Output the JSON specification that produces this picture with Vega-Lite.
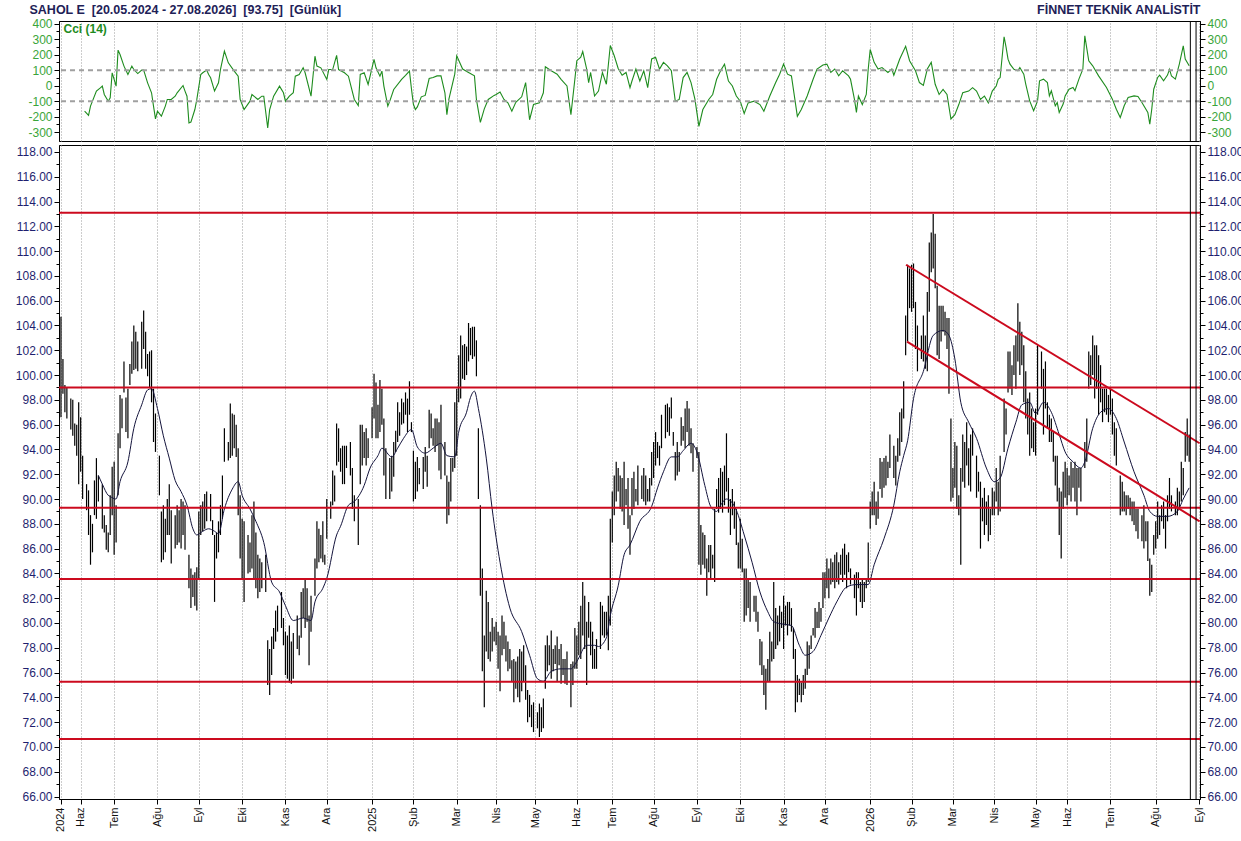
{
"$schema":"https://vega.github.io/schema/vega-lite/v6.json",
"background":"white",
"padding":{"left":14,"top":2,"right":0,"bottom":0},
"spacing":2,
"config":{"font":"Liberation Sans","view":{"stroke":"#000000","strokeWidth":1},"axis":{"labelFont":"Liberation Sans","titleFont":"Liberation Sans","labelOverlap":false,"labelFlush":false,"labelBound":false}},
"datasets":{
"bars":[
{"i":0,"h":104.7,"l":96.6},{"i":1,"h":101.3,"l":98.5},{"i":2,"h":99.2,"l":97.0},{"i":3,"h":99.0,"l":96.5},{"i":5,"h":98.1,"l":95.6},{"i":6,"h":98.0,"l":95.1},{"i":7,"h":96.1,"l":94.3},{"i":8,"h":96.0,"l":93.5},{"i":9,"h":97.8,"l":91.2},{"i":10,"h":96.6,"l":92.2},{"i":11,"h":93.5,"l":90.0},{"i":13,"h":91.2,"l":89.1},{"i":14,"h":90.7,"l":87.1},{"i":15,"h":88.7,"l":84.7},{"i":16,"h":88.0,"l":85.7},{"i":17,"h":91.5,"l":88.7},{"i":18,"h":93.3,"l":88.4},{"i":19,"h":91.9,"l":89.8},{"i":21,"h":91.2,"l":87.6},{"i":22,"h":88.7,"l":87.3},{"i":23,"h":87.9,"l":85.9},{"i":24,"h":87.3,"l":85.7},{"i":25,"h":90.3,"l":87.1},{"i":26,"h":92.6,"l":88.7},{"i":27,"h":93.0,"l":85.5},{"i":28,"h":89.5,"l":86.5},{"i":29,"h":95.3,"l":90.3},{"i":30,"h":98.4,"l":94.1},{"i":31,"h":98.1,"l":95.7},{"i":32,"h":101.1,"l":98.6},{"i":33,"h":98.2,"l":95.4},{"i":34,"h":98.9,"l":94.9},{"i":35,"h":100.9,"l":99.2},{"i":36,"h":102.7,"l":100.1},{"i":37,"h":104.0,"l":100.4},{"i":38,"h":103.5,"l":100.5},{"i":39,"h":102.7,"l":100.3},{"i":41,"h":104.3,"l":100.5},{"i":42,"h":105.2,"l":102.1},{"i":43,"h":103.5,"l":100.5},{"i":44,"h":101.7,"l":99.9},{"i":45,"h":101.9,"l":99.0},{"i":46,"h":102.0,"l":97.8},{"i":47,"h":98.9,"l":94.6},{"i":48,"h":96.9,"l":93.8},{"i":50,"h":93.5,"l":90.3},{"i":51,"h":89.0,"l":84.9},{"i":52,"h":89.5,"l":85.1},{"i":53,"h":88.4,"l":85.7},{"i":54,"h":90.0,"l":87.1},{"i":55,"h":91.2,"l":87.1},{"i":56,"h":89.1,"l":84.8},{"i":58,"h":88.7,"l":86.0},{"i":59,"h":89.5,"l":86.3},{"i":60,"h":89.1,"l":86.5},{"i":61,"h":90.0,"l":86.0},{"i":62,"h":89.8,"l":87.1},{"i":63,"h":89.5,"l":85.9},{"i":65,"h":85.5,"l":82.8},{"i":66,"h":84.4,"l":81.2},{"i":67,"h":83.9,"l":82.1},{"i":68,"h":84.1,"l":81.4},{"i":69,"h":84.5,"l":81.0},{"i":70,"h":89.0,"l":83.6},{"i":71,"h":89.5,"l":87.1},{"i":72,"h":89.8,"l":87.4},{"i":73,"h":90.4,"l":87.6},{"i":74,"h":90.6,"l":88.2},{"i":76,"h":90.4,"l":88.2},{"i":77,"h":88.3,"l":87.1},{"i":78,"h":87.1,"l":81.7},{"i":79,"h":87.3,"l":85.2},{"i":80,"h":88.2,"l":85.7},{"i":81,"h":89.5,"l":87.1},{"i":82,"h":91.9,"l":88.4},{"i":83,"h":95.7,"l":93.0},{"i":85,"h":94.6,"l":93.1},{"i":86,"h":97.7,"l":93.3},{"i":87,"h":96.9,"l":93.5},{"i":88,"h":96.8,"l":94.1},{"i":89,"h":96.0,"l":93.4},{"i":90,"h":94.1,"l":88.7},{"i":91,"h":90.3,"l":85.2},{"i":92,"h":88.4,"l":83.6},{"i":93,"h":88.2,"l":81.7},{"i":95,"h":87.1,"l":84.0},{"i":96,"h":86.5,"l":84.1},{"i":97,"h":88.7,"l":84.4},{"i":98,"h":89.8,"l":83.6},{"i":99,"h":87.3,"l":82.8},{"i":100,"h":85.5,"l":82.0},{"i":101,"h":85.2,"l":82.5},{"i":102,"h":84.9,"l":82.8},{"i":104,"h":85.5,"l":82.5},{"i":105,"h":78.6,"l":75.0},{"i":106,"h":77.9,"l":74.2},{"i":107,"h":78.9,"l":75.8},{"i":108,"h":79.6,"l":77.9},{"i":109,"h":81.0,"l":78.5},{"i":110,"h":81.4,"l":79.3},{"i":112,"h":82.5,"l":79.6},{"i":113,"h":80.4,"l":78.2},{"i":114,"h":79.3,"l":75.8},{"i":115,"h":79.0,"l":75.5},{"i":116,"h":79.8,"l":75.2},{"i":117,"h":78.5,"l":75.1},{"i":118,"h":79.2,"l":75.5},{"i":120,"h":80.6,"l":77.9},{"i":121,"h":79.0,"l":77.4},{"i":122,"h":82.5,"l":78.8},{"i":123,"h":82.8,"l":80.4},{"i":124,"h":83.6,"l":79.6},{"i":125,"h":82.8,"l":80.1},{"i":126,"h":80.6,"l":76.6},{"i":127,"h":82.2,"l":79.3},{"i":129,"h":85.2,"l":82.2},{"i":130,"h":88.2,"l":84.4},{"i":131,"h":87.6,"l":84.9},{"i":132,"h":87.1,"l":85.2},{"i":133,"h":88.2,"l":84.9},{"i":134,"h":85.5,"l":84.7},{"i":135,"h":90.0,"l":86.8},{"i":137,"h":89.8,"l":88.4},{"i":138,"h":92.3,"l":89.5},{"i":139,"h":91.9,"l":89.8},{"i":140,"h":96.1,"l":92.7},{"i":141,"h":95.7,"l":93.0},{"i":142,"h":94.1,"l":92.2},{"i":143,"h":94.3,"l":91.2},
{"i":144,"h":94.3,"l":91.2},{"i":145,"h":94.3,"l":92.5},{"i":147,"h":94.6,"l":91.9},{"i":148,"h":92.5,"l":89.2},{"i":149,"h":90.3,"l":88.2},{"i":151,"h":90.0,"l":86.3},{"i":152,"h":96.0,"l":91.2},{"i":153,"h":96.0,"l":92.7},{"i":154,"h":95.4,"l":93.3},{"i":155,"h":95.7,"l":92.7},{"i":156,"h":94.9,"l":93.3},{"i":158,"h":97.4,"l":94.9},{"i":159,"h":100.1,"l":96.5},{"i":160,"h":99.4,"l":94.9},{"i":161,"h":97.6,"l":94.9},{"i":162,"h":99.6,"l":95.4},{"i":163,"h":98.9,"l":96.0},{"i":164,"h":96.5,"l":91.9},{"i":165,"h":94.1,"l":90.0},{"i":167,"h":93.3,"l":90.0},{"i":168,"h":93.5,"l":90.6},{"i":169,"h":94.6,"l":91.8},{"i":170,"h":95.5,"l":93.8},{"i":171,"h":97.8,"l":94.6},{"i":172,"h":97.0,"l":95.1},{"i":173,"h":98.1,"l":96.0},{"i":174,"h":97.8,"l":96.1},{"i":175,"h":98.6,"l":96.8},{"i":176,"h":98.1,"l":95.4},{"i":177,"h":99.5,"l":96.8},{"i":178,"h":96.2,"l":95.4},{"i":179,"h":93.9,"l":89.8},{"i":180,"h":93.0,"l":90.0},{"i":181,"h":93.4,"l":90.6},{"i":182,"h":92.5,"l":91.2},{"i":184,"h":93.4,"l":90.8},{"i":185,"h":94.2,"l":92.2},{"i":186,"h":93.5,"l":91.0},{"i":187,"h":97.2,"l":94.1},{"i":188,"h":96.9,"l":94.9},{"i":189,"h":95.7,"l":94.3},{"i":190,"h":96.5,"l":93.8},{"i":191,"h":96.5,"l":94.3},{"i":192,"h":96.2,"l":92.3},{"i":193,"h":97.6,"l":91.6},{"i":195,"h":94.6,"l":91.9},{"i":196,"h":91.9,"l":88.0},{"i":197,"h":91.4,"l":88.7},{"i":198,"h":93.3,"l":89.8},{"i":199,"h":93.3,"l":92.2},{"i":200,"h":97.8,"l":92.5},{"i":201,"h":98.9,"l":93.5},{"i":202,"h":101.6,"l":97.8},{"i":203,"h":103.2,"l":98.1},{"i":204,"h":102.4,"l":99.7},{"i":205,"h":102.5,"l":99.6},{"i":206,"h":102.3,"l":100.0},{"i":207,"h":104.2,"l":101.1},{"i":208,"h":103.8,"l":101.6},{"i":209,"h":103.9,"l":101.3},{"i":210,"h":103.9,"l":101.5},{"i":211,"h":102.8,"l":99.9},{"i":212,"h":95.7,"l":90.0},{"i":213,"h":89.5,"l":82.2},{"i":214,"h":84.4,"l":76.1},{"i":215,"h":79.0,"l":73.2},{"i":216,"h":82.6,"l":77.7},{"i":217,"h":81.7,"l":77.1},{"i":218,"h":79.3,"l":76.9},{"i":219,"h":80.4,"l":77.7},{"i":220,"h":79.7,"l":78.5},{"i":221,"h":80.1,"l":78.2},{"i":222,"h":79.3,"l":76.3},{"i":223,"h":79.0,"l":74.5},{"i":224,"h":80.6,"l":77.4},{"i":225,"h":80.1,"l":77.9},{"i":226,"h":79.0,"l":76.9},{"i":227,"h":78.5,"l":76.1},{"i":228,"h":77.9,"l":76.3},{"i":229,"h":77.0,"l":75.3},{"i":230,"h":77.1,"l":73.6},{"i":231,"h":76.9,"l":74.7},{"i":232,"h":77.3,"l":74.0},{"i":233,"h":77.9,"l":73.6},{"i":234,"h":77.7,"l":74.5},{"i":235,"h":78.2,"l":75.3},{"i":236,"h":76.6,"l":73.8},{"i":237,"h":74.6,"l":72.0},{"i":238,"h":74.2,"l":72.4},{"i":239,"h":73.4,"l":71.6},{"i":240,"h":73.6,"l":71.2},{"i":242,"h":72.8,"l":71.5},{"i":243,"h":73.5,"l":70.8},{"i":244,"h":73.2,"l":71.2},{"i":245,"h":73.9,"l":71.5},{"i":246,"h":78.2,"l":74.7},{"i":247,"h":79.0,"l":76.1},{"i":248,"h":78.2,"l":76.6},{"i":249,"h":79.4,"l":75.5},{"i":250,"h":77.9,"l":76.1},{"i":251,"h":78.2,"l":76.7},{"i":252,"h":78.9,"l":75.3},{"i":253,"h":77.9,"l":76.6},{"i":254,"h":78.3,"l":75.1},{"i":255,"h":77.1,"l":75.8},{"i":256,"h":77.1,"l":75.1},{"i":257,"h":77.7,"l":75.0},{"i":259,"h":76.7,"l":73.2},{"i":260,"h":76.9,"l":75.0},{"i":261,"h":79.6,"l":76.3},{"i":262,"h":79.0,"l":76.3},{"i":263,"h":80.1,"l":77.4},{"i":264,"h":81.4,"l":77.1},{"i":265,"h":83.3,"l":79.0},{"i":266,"h":82.2,"l":77.9},{"i":267,"h":80.1,"l":75.0},{"i":268,"h":81.7,"l":78.8},{"i":269,"h":80.1,"l":77.4},{"i":270,"h":79.3,"l":76.3},{"i":271,"h":77.9,"l":76.3},{"i":272,"h":78.7,"l":76.3},{"i":274,"h":81.7,"l":77.9},{"i":275,"h":81.4,"l":79.0},{"i":276,"h":80.9,"l":78.8},{"i":277,"h":80.9,"l":79.0},{"i":278,"h":82.2,"l":77.8},{"i":279,"h":88.4,"l":79.8},{"i":280,"h":90.6,"l":86.5},{"i":281,"h":91.9,"l":88.7},{"i":282,"h":93.0,"l":89.8},{"i":283,"h":92.5,"l":90.6},{"i":284,"h":91.9,"l":89.2},{"i":285,"h":91.7,"l":89.0},{"i":286,"h":93.0,"l":87.9},{"i":287,"h":90.8,"l":89.5},
{"i":288,"h":91.7,"l":87.6},{"i":289,"h":88.7,"l":85.5},{"i":290,"h":91.7,"l":88.7},{"i":291,"h":92.2,"l":89.2},{"i":292,"h":90.8,"l":89.8},{"i":293,"h":92.7,"l":89.5},{"i":295,"h":91.9,"l":90.0},{"i":296,"h":92.5,"l":89.8},{"i":297,"h":91.9,"l":89.5},{"i":298,"h":90.8,"l":89.8},{"i":299,"h":91.7,"l":89.8},{"i":300,"h":93.8,"l":91.1},{"i":301,"h":94.6,"l":91.7},{"i":302,"h":95.4,"l":92.7},{"i":303,"h":94.6,"l":93.3},{"i":304,"h":94.3,"l":92.7},{"i":305,"h":96.8,"l":94.1},{"i":307,"h":97.6,"l":94.9},{"i":308,"h":97.7,"l":95.4},{"i":309,"h":97.4,"l":95.1},{"i":310,"h":98.2,"l":96.5},{"i":311,"h":95.4,"l":94.3},{"i":312,"h":93.8,"l":91.5},{"i":313,"h":94.6,"l":91.9},{"i":314,"h":93.8,"l":92.2},{"i":315,"h":96.6,"l":94.3},{"i":316,"h":95.9,"l":94.7},{"i":317,"h":97.3,"l":94.1},{"i":318,"h":97.9,"l":95.4},{"i":319,"h":97.3,"l":94.3},{"i":320,"h":95.7,"l":93.7},{"i":321,"h":94.5,"l":92.2},{"i":323,"h":94.2,"l":93.3},{"i":324,"h":93.8,"l":84.7},{"i":325,"h":87.9,"l":83.9},{"i":326,"h":87.3,"l":84.7},{"i":327,"h":87.1,"l":84.4},{"i":328,"h":85.2,"l":82.2},{"i":329,"h":86.3,"l":84.1},{"i":330,"h":86.3,"l":83.6},{"i":331,"h":85.5,"l":84.4},{"i":332,"h":89.2,"l":83.3},{"i":333,"h":90.8,"l":89.2},{"i":334,"h":91.7,"l":88.9},{"i":335,"h":92.5,"l":89.2},{"i":336,"h":92.2,"l":88.9},{"i":337,"h":92.7,"l":89.5},{"i":338,"h":95.3,"l":90.6},{"i":339,"h":91.7,"l":88.9},{"i":340,"h":90.0,"l":87.1},{"i":341,"h":90.8,"l":88.7},{"i":342,"h":89.8,"l":87.6},{"i":343,"h":89.2,"l":86.3},{"i":344,"h":86.5,"l":84.4},{"i":345,"h":88.4,"l":84.4},{"i":346,"h":86.8,"l":84.1},{"i":347,"h":84.4,"l":80.1},{"i":348,"h":84.4,"l":80.6},{"i":349,"h":83.6,"l":81.2},{"i":350,"h":83.3,"l":80.1},{"i":352,"h":82.2,"l":80.9},{"i":353,"h":82.2,"l":80.1},{"i":354,"h":80.9,"l":79.3},{"i":355,"h":78.7,"l":76.6},{"i":356,"h":78.5,"l":75.8},{"i":357,"h":76.6,"l":74.2},{"i":358,"h":76.3,"l":73.0},{"i":359,"h":77.1,"l":75.3},{"i":360,"h":79.3,"l":75.3},{"i":361,"h":78.5,"l":76.9},{"i":362,"h":83.3,"l":77.1},{"i":363,"h":81.2,"l":77.9},{"i":364,"h":80.6,"l":78.2},{"i":365,"h":81.4,"l":78.5},{"i":366,"h":80.9,"l":79.6},{"i":367,"h":82.2,"l":77.9},{"i":368,"h":81.4,"l":79.8},{"i":369,"h":81.7,"l":79.0},{"i":370,"h":81.7,"l":79.8},{"i":371,"h":81.2,"l":79.3},{"i":372,"h":79.6,"l":77.1},{"i":373,"h":77.9,"l":72.8},{"i":374,"h":75.8,"l":73.6},{"i":375,"h":75.5,"l":74.2},{"i":376,"h":75.2,"l":73.6},{"i":377,"h":75.8,"l":74.2},{"i":378,"h":76.3,"l":74.7},{"i":379,"h":78.5,"l":75.8},{"i":380,"h":78.2,"l":76.3},{"i":381,"h":79.0,"l":77.9},{"i":382,"h":79.6,"l":79.0},{"i":383,"h":81.2,"l":78.8},{"i":384,"h":80.9,"l":79.6},{"i":385,"h":81.7,"l":79.6},{"i":386,"h":81.2,"l":80.1},{"i":387,"h":84.1,"l":81.2},{"i":388,"h":84.1,"l":82.0},{"i":389,"h":85.2,"l":82.8},{"i":390,"h":84.4,"l":82.0},{"i":391,"h":85.2,"l":83.1},{"i":392,"h":84.9,"l":83.3},{"i":393,"h":85.5,"l":82.8},{"i":394,"h":85.7,"l":83.3},{"i":395,"h":84.9,"l":83.1},{"i":396,"h":85.5,"l":83.9},{"i":397,"h":86.0,"l":83.3},{"i":398,"h":86.4,"l":83.9},{"i":399,"h":85.5,"l":82.8},{"i":400,"h":85.7,"l":84.1},{"i":401,"h":84.4,"l":83.1},{"i":403,"h":83.9,"l":82.0},{"i":404,"h":84.1,"l":80.6},{"i":405,"h":84.1,"l":82.8},{"i":406,"h":83.3,"l":81.7},{"i":407,"h":83.6,"l":81.2},{"i":408,"h":83.3,"l":81.7},{"i":409,"h":83.6,"l":82.8},{"i":410,"h":86.5,"l":83.3},{"i":411,"h":89.8,"l":87.6},{"i":412,"h":90.6,"l":88.7},{"i":413,"h":91.4,"l":88.7},{"i":414,"h":89.8,"l":87.9},{"i":415,"h":90.6,"l":88.4},{"i":416,"h":93.3,"l":90.8},
{"i":417,"h":93.0,"l":90.1},{"i":418,"h":93.3,"l":90.9},{"i":419,"h":93.5,"l":91.1},{"i":420,"h":93.0,"l":91.7},{"i":421,"h":95.2,"l":92.5},{"i":423,"h":94.3,"l":91.7},{"i":424,"h":93.5,"l":91.1},{"i":425,"h":94.9,"l":93.0},{"i":426,"h":97.0,"l":93.5},{"i":427,"h":97.3,"l":94.6},{"i":428,"h":99.5,"l":96.5},{"i":429,"h":104.8,"l":101.6},{"i":430,"h":108.9,"l":102.7},{"i":431,"h":108.6,"l":105.4},{"i":432,"h":108.9,"l":105.1},{"i":433,"h":109.0,"l":105.4},{"i":434,"h":105.9,"l":102.1},{"i":435,"h":104.0,"l":100.3},{"i":437,"h":103.2,"l":101.3},{"i":438,"h":104.8,"l":101.1},{"i":439,"h":103.2,"l":100.5},{"i":440,"h":106.7,"l":100.3},{"i":441,"h":110.7,"l":105.1},{"i":442,"h":111.5,"l":108.3},{"i":443,"h":113.0,"l":108.6},{"i":444,"h":111.4,"l":107.0},{"i":445,"h":107.2,"l":101.6},{"i":446,"h":105.6,"l":101.3},{"i":447,"h":105.6,"l":102.7},{"i":448,"h":105.6,"l":103.5},{"i":449,"h":105.1,"l":103.2},{"i":450,"h":104.6,"l":102.1},{"i":451,"h":104.6,"l":98.5},{"i":452,"h":96.5,"l":89.8},{"i":453,"h":92.5,"l":90.1},{"i":454,"h":94.6,"l":90.9},{"i":455,"h":94.3,"l":89.2},{"i":456,"h":90.3,"l":88.7},{"i":457,"h":92.5,"l":84.7},{"i":458,"h":95.2,"l":91.4},{"i":459,"h":94.6,"l":90.9},{"i":460,"h":96.2,"l":92.7},{"i":461,"h":94.1,"l":91.1},{"i":462,"h":95.2,"l":90.6},{"i":463,"h":95.7,"l":93.5},{"i":465,"h":93.5,"l":90.1},{"i":466,"h":92.2,"l":90.6},{"i":467,"h":91.4,"l":86.0},{"i":468,"h":90.1,"l":88.2},{"i":469,"h":90.9,"l":87.1},{"i":470,"h":89.8,"l":87.9},{"i":471,"h":90.3,"l":86.6},{"i":472,"h":89.2,"l":87.1},{"i":473,"h":90.9,"l":88.7},{"i":474,"h":90.6,"l":88.7},{"i":475,"h":92.5,"l":89.8},{"i":476,"h":91.4,"l":88.7},{"i":477,"h":93.5,"l":89.0},{"i":479,"h":98.1,"l":93.8},{"i":480,"h":97.3,"l":95.2},{"i":481,"h":101.9,"l":98.6},{"i":482,"h":101.9,"l":98.9},{"i":483,"h":100.8,"l":98.4},{"i":484,"h":102.4,"l":100.0},{"i":485,"h":103.2,"l":98.9},{"i":486,"h":105.8,"l":101.1},{"i":487,"h":104.3,"l":100.0},{"i":488,"h":103.5,"l":100.8},{"i":489,"h":102.4,"l":97.8},{"i":490,"h":100.3,"l":96.5},{"i":491,"h":98.1,"l":95.2},{"i":492,"h":98.6,"l":93.5},{"i":493,"h":97.3,"l":94.1},{"i":494,"h":96.2,"l":93.8},{"i":495,"h":97.3,"l":93.5},{"i":496,"h":102.4,"l":96.8},{"i":498,"h":101.9,"l":98.9},{"i":499,"h":100.5,"l":95.2},{"i":500,"h":101.1,"l":97.3},{"i":501,"h":97.8,"l":95.7},{"i":502,"h":96.8,"l":94.6},{"i":503,"h":96.5,"l":94.6},{"i":504,"h":95.4,"l":93.0},{"i":505,"h":93.5,"l":91.1},{"i":506,"h":93.5,"l":89.8},{"i":507,"h":90.9,"l":87.1},{"i":508,"h":90.6,"l":85.2},{"i":509,"h":92.2,"l":89.2},{"i":510,"h":93.0,"l":90.1},{"i":511,"h":92.5,"l":89.5},{"i":512,"h":91.9,"l":90.3},{"i":513,"h":93.0,"l":89.8},{"i":514,"h":92.5,"l":90.9},{"i":515,"h":93.0,"l":89.8},{"i":516,"h":92.5,"l":88.7},{"i":517,"h":92.5,"l":90.9},{"i":518,"h":92.5,"l":89.8},{"i":520,"h":94.6,"l":92.5},{"i":521,"h":96.5,"l":93.0},{"i":522,"h":101.9,"l":98.9},{"i":523,"h":101.6,"l":99.2},{"i":524,"h":103.2,"l":100.0},{"i":525,"h":102.4,"l":98.1},{"i":526,"h":102.4,"l":98.9},{"i":527,"h":101.6,"l":96.8},{"i":528,"h":100.8,"l":97.8},{"i":529,"h":98.9,"l":96.2},{"i":530,"h":98.9,"l":97.0},{"i":531,"h":98.9,"l":96.8},{"i":532,"h":98.4,"l":96.2},{"i":533,"h":98.9,"l":96.8},{"i":534,"h":98.1,"l":95.2},{"i":535,"h":96.2,"l":93.5},{"i":536,"h":95.7,"l":92.7},{"i":538,"h":91.9,"l":88.7},{"i":539,"h":91.4,"l":89.0},{"i":540,"h":90.6,"l":89.0},{"i":541,"h":90.3,"l":88.7},{"i":542,"h":90.3,"l":89.2},{"i":543,"h":90.1,"l":88.7},{"i":544,"h":89.8,"l":88.2},{"i":545,"h":89.8,"l":87.9},{"i":546,"h":89.2,"l":87.4},{"i":547,"h":89.2,"l":86.8},{"i":549,"h":88.7,"l":86.6},{"i":550,"h":89.5,"l":86.0},{"i":551,"h":88.2,"l":86.6},{"i":552,"h":88.2,"l":85.0},{"i":553,"h":85.2,"l":82.2},{"i":554,"h":84.7,"l":82.5},{"i":555,"h":87.1,"l":85.5},{"i":556,"h":88.2,"l":86.0},{"i":557,"h":89.8,"l":86.8},{"i":558,"h":88.7,"l":87.1},{"i":559,"h":89.5,"l":88.2},{"i":560,"h":89.8,"l":87.6},{"i":561,"h":88.7,"l":86.0},{"i":562,"h":90.3,"l":88.2},{"i":563,"h":91.7,"l":89.2},{"i":564,"h":90.3,"l":89.0},{"i":566,"h":89.8,"l":88.7},{"i":567,"h":90.9,"l":88.7},{"i":568,"h":90.6,"l":89.2},{"i":569,"h":93.0,"l":89.8},{"i":570,"h":92.5,"l":90.3},{"i":571,"h":95.4,"l":93.0},{"i":572,"h":96.5,"l":93.5},{"i":573,"h":95.2,"l":93.0}
],
"ma":[
{"i":19,"m":91.9},{"i":21,"m":91.2},{"i":24,"m":90.3},{"i":25,"m":90.2},{"i":28,"m":90.0},{"i":30,"m":91.4},{"i":34,"m":93.0},{"i":37,"m":95.7},{"i":41,"m":97.6},{"i":44,"m":98.8},{"i":46,"m":98.9},{"i":49,"m":97.3},{"i":52,"m":95.1},{"i":55,"m":93.3},{"i":58,"m":91.5},{"i":61,"m":90.6},{"i":64,"m":89.5},{"i":67,"m":87.6},{"i":69,"m":87.1},{"i":72,"m":87.4},{"i":75,"m":87.6},{"i":78,"m":87.4},{"i":80,"m":87.2},{"i":83,"m":89.2},{"i":87,"m":90.8},{"i":90,"m":91.4},{"i":92,"m":90.3},{"i":96,"m":89.2},{"i":99,"m":88.2},{"i":103,"m":86.5},{"i":107,"m":83.3},{"i":111,"m":82.5},{"i":114,"m":81.4},{"i":118,"m":80.2},{"i":123,"m":80.4},{"i":127,"m":80.2},{"i":129,"m":81.7},{"i":133,"m":82.8},{"i":135,"m":83.6},{"i":140,"m":87.1},{"i":142,"m":87.8},{"i":146,"m":89.5},{"i":149,"m":89.8},{"i":154,"m":91.1},{"i":157,"m":92.5},{"i":161,"m":93.5},{"i":163,"m":94.1},{"i":168,"m":93.4},{"i":171,"m":94.1},{"i":174,"m":94.9},{"i":178,"m":95.6},{"i":181,"m":94.2},{"i":185,"m":93.7},{"i":189,"m":94.1},{"i":193,"m":94.5},{"i":196,"m":93.5},{"i":200,"m":93.4},{"i":202,"m":95.4},{"i":206,"m":97.0},{"i":208,"m":98.2},{"i":210,"m":98.7},{"i":212,"m":97.3},{"i":216,"m":93.3},{"i":219,"m":89.2},{"i":223,"m":84.9},{"i":228,"m":81.2},{"i":234,"m":79.3},{"i":238,"m":77.4},{"i":242,"m":75.5},{"i":245,"m":75.3},{"i":249,"m":76.1},{"i":254,"m":76.3},{"i":259,"m":76.3},{"i":262,"m":76.9},{"i":267,"m":78.2},{"i":271,"m":78.2},{"i":273,"m":78.1},{"i":277,"m":78.8},{"i":279,"m":80.6},{"i":283,"m":83.0},{"i":286,"m":85.5},{"i":289,"m":86.3},{"i":294,"m":88.2},{"i":300,"m":89.4},{"i":303,"m":90.9},{"i":306,"m":92.2},{"i":310,"m":93.4},{"i":313,"m":93.4},{"i":316,"m":93.9},{"i":320,"m":94.5},{"i":323,"m":93.8},{"i":327,"m":91.1},{"i":330,"m":89.4},{"i":333,"m":89.0},{"i":335,"m":89.5},{"i":338,"m":90.0},{"i":343,"m":89.1},{"i":347,"m":87.1},{"i":351,"m":84.9},{"i":355,"m":82.5},{"i":359,"m":80.9},{"i":362,"m":80.1},{"i":367,"m":79.9},{"i":371,"m":79.8},{"i":375,"m":78.2},{"i":378,"m":77.4},{"i":382,"m":77.7},{"i":386,"m":79.0},{"i":390,"m":80.4},{"i":394,"m":81.7},{"i":399,"m":82.9},{"i":404,"m":83.1},{"i":410,"m":83.1},{"i":413,"m":84.7},{"i":418,"m":86.8},{"i":423,"m":89.5},{"i":426,"m":92.2},{"i":428,"m":93.5},{"i":430,"m":94.7},{"i":433,"m":98.1},{"i":438,"m":100.3},{"i":443,"m":103.2},{"i":448,"m":103.6},{"i":451,"m":103.2},{"i":454,"m":101.3},{"i":457,"m":97.8},{"i":461,"m":96.2},{"i":465,"m":94.9},{"i":470,"m":92.5},{"i":474,"m":91.4},{"i":477,"m":91.7},{"i":481,"m":94.1},{"i":485,"m":96.2},{"i":488,"m":97.6},{"i":492,"m":97.8},{"i":495,"m":96.9},{"i":499,"m":97.8},{"i":503,"m":97.0},{"i":507,"m":95.2},{"i":510,"m":93.8},{"i":514,"m":93.0},{"i":518,"m":92.5},{"i":520,"m":93.0},{"i":524,"m":95.7},{"i":528,"m":97.0},{"i":532,"m":97.3},{"i":536,"m":96.5},{"i":540,"m":94.6},{"i":545,"m":92.2},{"i":550,"m":90.3},{"i":553,"m":89.0},{"i":557,"m":88.6},{"i":562,"m":88.6},{"i":567,"m":89.0},{"i":570,"m":90.0},{"i":573,"m":90.9}
],
"cci":[
{"i":12,"k":-165},{"i":14,"k":-192},{"i":15,"k":-132},{"i":18,"k":-35},{"i":20,"k":-14},{"i":21,"k":-3},{"i":22,"k":-57},{"i":24,"k":-100},{"i":25,"k":-78},{"i":26,"k":83},{"i":27,"k":40},{"i":28,"k":-3},{"i":29,"k":229},{"i":30,"k":201},{"i":32,"k":126},{"i":34,"k":72},{"i":36,"k":126},{"i":37,"k":104},{"i":39,"k":78},{"i":41,"k":100},{"i":42,"k":100},{"i":44,"k":18},{"i":46,"k":-46},{"i":47,"k":-132},{"i":48,"k":-214},{"i":49,"k":-165},{"i":51,"k":-197},{"i":53,"k":-132},{"i":54,"k":-89},{"i":56,"k":-89},{"i":58,"k":-68},{"i":59,"k":-46},{"i":62,"k":1},{"i":63,"k":-35},{"i":64,"k":-68},{"i":65,"k":-240},{"i":66,"k":-235},{"i":68,"k":-154},{"i":69,"k":-89},{"i":71,"k":72},{"i":72,"k":83},{"i":74,"k":100},{"i":75,"k":72},{"i":76,"k":51},{"i":78,"k":-35},{"i":80,"k":18},{"i":81,"k":104},{"i":83,"k":223},{"i":85,"k":147},{"i":88,"k":94},{"i":90,"k":61},{"i":91,"k":-89},{"i":93,"k":-154},{"i":96,"k":-100},{"i":97,"k":-57},{"i":100,"k":-89},{"i":102,"k":-68},{"i":103,"k":-68},{"i":105,"k":-272},{"i":106,"k":-154},{"i":108,"k":-68},{"i":111,"k":-3},{"i":113,"k":-46},{"i":114,"k":-100},{"i":116,"k":-68},{"i":118,"k":-46},{"i":119,"k":61},{"i":121,"k":72},{"i":123,"k":115},{"i":124,"k":83},{"i":127,"k":-68},{"i":129,"k":190},{"i":130,"k":126},{"i":132,"k":115},{"i":135,"k":40},{"i":136,"k":104},{"i":138,"k":104},{"i":140,"k":195},{"i":141,"k":104},{"i":144,"k":83},{"i":146,"k":61},{"i":149,"k":-89},{"i":151,"k":-128},{"i":152,"k":72},{"i":154,"k":83},{"i":156,"k":8},{"i":159,"k":169},{"i":160,"k":115},{"i":162,"k":61},{"i":163,"k":94},{"i":164,"k":-3},{"i":166,"k":-132},{"i":167,"k":-100},{"i":169,"k":-25},{"i":173,"k":40},{"i":175,"k":66},{"i":177,"k":94},{"i":178,"k":-20},{"i":179,"k":-120},{"i":180,"k":-154},{"i":181,"k":-137},{"i":183,"k":-72},{"i":185,"k":-63},{"i":187,"k":46},{"i":189,"k":52},{"i":191,"k":63},{"i":193,"k":63},{"i":195,"k":-46},{"i":196,"k":-187},{"i":197,"k":-89},{"i":200,"k":74},{"i":201,"k":193},{"i":204,"k":107},{"i":207,"k":85},{"i":210,"k":63},{"i":211,"k":-89},{"i":213,"k":-237},{"i":215,"k":-150},{"i":217,"k":-89},{"i":220,"k":-63},{"i":221,"k":-57},{"i":223,"k":-41},{"i":225,"k":-89},{"i":227,"k":-111},{"i":229,"k":-165},{"i":231,"k":-107},{"i":234,"k":-72},{"i":236,"k":20},{"i":238,"k":-220},{"i":240,"k":-122},{"i":243,"k":-111},{"i":245,"k":-46},{"i":246,"k":122},{"i":249,"k":96},{"i":252,"k":74},{"i":254,"k":41},{"i":257,"k":-2},{"i":259,"k":-187},{"i":261,"k":41},{"i":262,"k":161},{"i":264,"k":183},{"i":265,"k":220},{"i":267,"k":107},{"i":268,"k":20},{"i":269,"k":85},{"i":271,"k":-67},{"i":273,"k":-35},{"i":275,"k":85},{"i":277,"k":9},{"i":279,"k":259},{"i":281,"k":193},{"i":283,"k":111},{"i":285,"k":67},{"i":287,"k":85},{"i":289,"k":-13},{"i":290,"k":30},{"i":292,"k":107},{"i":294,"k":30},{"i":296,"k":96},{"i":298,"k":-13},{"i":300,"k":172},{"i":302,"k":183},{"i":304,"k":107},{"i":306,"k":150},{"i":308,"k":128},{"i":310,"k":96},{"i":312,"k":-100},{"i":314,"k":-89},{"i":316,"k":52},{"i":318,"k":85},{"i":320,"k":20},{"i":322,"k":-89},{"i":323,"k":-176},{"i":324,"k":-263},{"i":326,"k":-154},{"i":329,"k":-89},{"i":331,"k":-57},{"i":333,"k":41},{"i":335,"k":96},{"i":337,"k":139},{"i":339,"k":30},{"i":341,"k":-2},{"i":343,"k":-67},{"i":345,"k":-100},{"i":347,"k":-180},{"i":349,"k":-111},{"i":352,"k":-100},{"i":355,"k":-122},{"i":357,"k":-165},{"i":360,"k":-67},{"i":363,"k":20},{"i":365,"k":74},{"i":367,"k":139},{"i":369,"k":74},{"i":371,"k":63},{"i":374,"k":-198},{"i":376,"k":-154},{"i":379,"k":-67},{"i":382,"k":41},{"i":384,"k":107},{"i":387,"k":133},{"i":389,"k":139},{"i":391,"k":85},{"i":393,"k":107},{"i":395,"k":63},{"i":397,"k":96},{"i":400,"k":63},{"i":401,"k":41},{"i":403,"k":-89},{"i":404,"k":-172},{"i":405,"k":-67},{"i":407,"k":-122},{"i":409,"k":-57},{"i":410,"k":107},{"i":411,"k":233},{"i":413,"k":150},{"i":415,"k":107},{"i":417,"k":117},{"i":420,"k":85},{"i":422,"k":107},{"i":423,"k":67},{"i":426,"k":172},{"i":429,"k":254},{"i":431,"k":161},{"i":434,"k":96},{"i":436,"k":20},{"i":438,"k":2},{"i":440,"k":107},{"i":442,"k":150},{"i":444,"k":9},{"i":446,"k":-57},{"i":448,"k":-24},{"i":450,"k":-57},{"i":452,"k":-215},{"i":454,"k":-187},{"i":456,"k":-122},{"i":458,"k":-46},{"i":461,"k":-35},{"i":463,"k":-13},{"i":465,"k":-35},{"i":467,"k":-89},{"i":469,"k":-67},{"i":471,"k":-111},{"i":473,"k":-35},{"i":475,"k":-2},{"i":476,"k":41},{"i":477,"k":52},{"i":479,"k":315},{"i":480,"k":248},{"i":481,"k":171},{"i":482,"k":139},{"i":484,"k":106},{"i":486,"k":96},{"i":487,"k":117},{"i":489,"k":74},{"i":490,"k":10},{"i":492,"k":-98},{"i":494,"k":-162},{"i":496,"k":-98},{"i":497,"k":31},{"i":499,"k":42},{"i":501,"k":20},{"i":502,"k":-66},{"i":503,"k":-33},{"i":505,"k":-130},{"i":506,"k":-109},{"i":507,"k":-173},{"i":509,"k":-119},{"i":510,"k":-66},{"i":512,"k":-23},{"i":514,"k":-12},{"i":515,"k":-33},{"i":517,"k":42},{"i":519,"k":106},{"i":520,"k":321},{"i":522,"k":160},{"i":524,"k":128},{"i":527,"k":63},{"i":531,"k":-12},{"i":534,"k":-87},{"i":536,"k":-152},{"i":538,"k":-205},{"i":540,"k":-130},{"i":542,"k":-76},{"i":545,"k":-66},{"i":547,"k":-70},{"i":549,"k":-109},{"i":552,"k":-173},{"i":553,"k":-248},{"i":554,"k":-152},{"i":555,"k":-23},{"i":557,"k":53},{"i":558,"k":68},{"i":560,"k":31},{"i":562,"k":68},{"i":563,"k":106},{"i":564,"k":63},{"i":566,"k":42},{"i":568,"k":139},{"i":570,"k":257},{"i":571,"k":171},{"i":573,"k":128}
],
"levels":[{"v":113.1},{"v":99.0},{"v":89.3},{"v":83.55},{"v":75.25},{"v":70.65}],
"channel":[{"i":429.2,"v":108.9,"i2":578.3,"v2":94.5},{"i":429.7,"v":102.7,"i2":578.3,"v2":88.2}],
"cursor":[{"i":573.6},{"i":576.5}],
"bands":[{"v":100},{"v":-100}]
},
"vconcat":[
{
"width":1141,"height":120,
"layer":[
{"layer":[
{"data":{"name":"cci"},"mark":{"type":"line","color":"#1e8c1e","strokeWidth":1.1},
"encoding":{
"x":{"field":"i","type":"quantitative","scale":{"domain":[-1,578.5],"nice":false,"zero":false},
"axis":{"orient":"top","values":[0,10,27,49,70,92,114,135,158,179,201,221,241,262,280,301,323,345,367,388,411,432,453,474,495,511,533,556,578],"labels":false,"ticks":false,"domain":false,"grid":true,"gridColor":"#9a9a9a","gridDash":[1,2],"gridWidth":1,
"title":"SAHOL E \u00a0[20.05.2024 - 27.08.2026] \u00a0[93.75] \u00a0[Günlük]","titleX":-30,"titleY":-12,"titleAlign":"left","titleBaseline":"middle","titleAngle":0,"titleFontSize":12.5,"titleFontWeight":"bold","titleColor":"#1e2157"}},
"y":{"field":"k","type":"quantitative","scale":{"domain":[-357,417],"nice":false,"zero":false},"axis":null}
}},
{"data":{"name":"bands"},"mark":{"type":"rule","color":"#a0a0a0","strokeDash":[5,4],"strokeWidth":2},
"encoding":{"y":{"field":"v","type":"quantitative","scale":{"domain":[-357,417],"nice":false,"zero":false},"axis":null}}},
{"data":{"name":"cursor"},"mark":{"type":"rule","color":"#000000","strokeWidth":1},
"encoding":{"x":{"field":"i","type":"quantitative","scale":{"domain":[-1,578.5],"nice":false,"zero":false}}}}
]},
{"data":{"name":"bands"},"mark":{"type":"rule","opacity":0},
"encoding":{"y":{"field":"v","type":"quantitative","scale":{"domain":[-357,417],"nice":false,"zero":false},
"axis":{"orient":"left","values":[-300,-250,-200,-150,-100,-50,0,50,100,150,200,250,300,350,400],"labelExpr":"datum.value % 100 === 0 ? '' + datum.value : ''","tickSize":{"condition":{"test":"datum.value % 100 === 0","value":5},"value":3},"tickColor":"#000000","labelColor":"#3aa53a","labelFontSize":12,"labelPadding":2,"labelOverlap":false,"labelFlush":false,"labelBound":false,"grid":false,"domain":true,"domainColor":"#000000",
"title":"Cci (14)","titleX":4,"titleY":2,"titleAngle":0,"titleAlign":"left","titleBaseline":"top","titleColor":"#1e8c1e","titleFontSize":12,"titleFontWeight":"bold"}}}},
{"data":{"name":"bands"},"mark":{"type":"rule","opacity":0},
"encoding":{"y":{"field":"v","type":"quantitative","scale":{"domain":[-357,417],"nice":false,"zero":false},
"axis":{"orient":"right","values":[-300,-250,-200,-150,-100,-50,0,50,100,150,200,250,300,350,400],"labelExpr":"datum.value % 100 === 0 ? '' + datum.value : ''","tickSize":{"condition":{"test":"datum.value % 100 === 0","value":5},"value":3},"tickColor":"#000000","labelColor":"#3aa53a","labelFontSize":12,"labelPadding":2,"labelOverlap":false,"labelFlush":false,"labelBound":false,"grid":false,"domain":true,"domainColor":"#000000",
"title":"FİNNET TEKNİK ANALİSTİT","titleX":0,"titleY":-12,"titleAngle":0,"titleAlign":"right","titleBaseline":"middle","titleColor":"#1e2157","titleFontSize":12.5,"titleFontWeight":"bold"}}}}
],
"resolve":{"scale":{"y":"independent"}}
},
{
"width":1141,"height":654,
"layer":[
{"layer":[
{"data":{"name":"bars"},"mark":{"type":"rule","color":"#000000","strokeWidth":1.2},
"encoding":{
"x":{"field":"i","type":"quantitative","scale":{"domain":[-1,578.5],"nice":false,"zero":false},
"axis":{"orient":"bottom","values":[0,10,27,49,70,92,114,135,158,179,201,221,241,262,280,301,323,345,367,388,411,432,453,474,495,511,533,556,578],
"labelExpr":"['2024','Haz','Tem','Ağu','Eyl','Eki','Kas','Ara','2025','Şub','Mar','Nis','May','Haz','Tem','Ağu','Eyl','Eki','Kas','Ara','2026','Şub','Mar','Nis','May','Haz','Tem','Ağu','Eyl'][indexof([0,10,27,49,70,92,114,135,158,179,201,221,241,262,280,301,323,345,367,388,411,432,453,474,495,511,533,556,578], datum.value)]",
"labelAngle":270,"labelAlign":"right","labelBaseline":"middle","labelFontSize":11,"labelColor":"#111111","labelPadding":3,"labelOverlap":false,"labelFlush":false,"labelBound":false,"tickSize":5,"tickColor":"#000000","domain":false,"grid":true,"gridColor":"#9a9a9a","gridDash":[1,2],"gridWidth":1,"title":null}},
"y":{"field":"l","type":"quantitative","scale":{"domain":[65.8,118.56],"nice":false,"zero":false},"axis":null},
"y2":{"field":"h"}
}},
{"data":{"name":"ma"},"mark":{"type":"line","color":"#14143c","strokeWidth":1,"interpolate":"monotone"},
"encoding":{"x":{"field":"i","type":"quantitative"},"y":{"field":"m","type":"quantitative","axis":null}}},
{"data":{"name":"levels"},"mark":{"type":"rule","color":"#cc0a1e","strokeWidth":2},
"encoding":{"y":{"field":"v","type":"quantitative","axis":null}}},
{"data":{"name":"channel"},"mark":{"type":"rule","color":"#cc0a1e","strokeWidth":2},
"encoding":{"x":{"field":"i","type":"quantitative"},"x2":{"field":"i2"},"y":{"field":"v","type":"quantitative","axis":null},"y2":{"field":"v2"}}},
{"data":{"name":"cursor"},"mark":{"type":"rule","color":"#000000","strokeWidth":1},
"encoding":{"x":{"field":"i","type":"quantitative"}}}
]},
{"data":{"name":"levels"},"mark":{"type":"rule","opacity":0},
"encoding":{"y":{"field":"v","type":"quantitative","scale":{"domain":[65.8,118.56],"nice":false,"zero":false},
"axis":{"orient":"left","values":[66,67,68,69,70,71,72,73,74,75,76,77,78,79,80,81,82,83,84,85,86,87,88,89,90,91,92,93,94,95,96,97,98,99,100,101,102,103,104,105,106,107,108,109,110,111,112,113,114,115,116,117,118],"labelExpr":"datum.value % 2 === 0 ? format(datum.value, '.2f') : ''","tickSize":{"condition":{"test":"datum.value % 2 === 0","value":5},"value":3},"tickColor":"#000000","labelColor":"#1f1f6f","labelFontSize":12,"labelPadding":2,"labelOverlap":false,"labelFlush":false,"labelBound":false,"grid":false,"domain":true,"domainColor":"#000000","title":null}}}},
{"data":{"name":"levels"},"mark":{"type":"rule","opacity":0},
"encoding":{"y":{"field":"v","type":"quantitative","scale":{"domain":[65.8,118.56],"nice":false,"zero":false},
"axis":{"orient":"right","values":[66,67,68,69,70,71,72,73,74,75,76,77,78,79,80,81,82,83,84,85,86,87,88,89,90,91,92,93,94,95,96,97,98,99,100,101,102,103,104,105,106,107,108,109,110,111,112,113,114,115,116,117,118],"labelExpr":"datum.value % 2 === 0 ? format(datum.value, '.2f') : ''","tickSize":{"condition":{"test":"datum.value % 2 === 0","value":5},"value":3},"tickColor":"#000000","labelColor":"#1f1f6f","labelFontSize":12,"labelPadding":2,"labelOverlap":false,"labelFlush":false,"labelBound":false,"grid":false,"domain":true,"domainColor":"#000000","title":null}}}}
],
"resolve":{"scale":{"y":"independent"}}
}
]
}
